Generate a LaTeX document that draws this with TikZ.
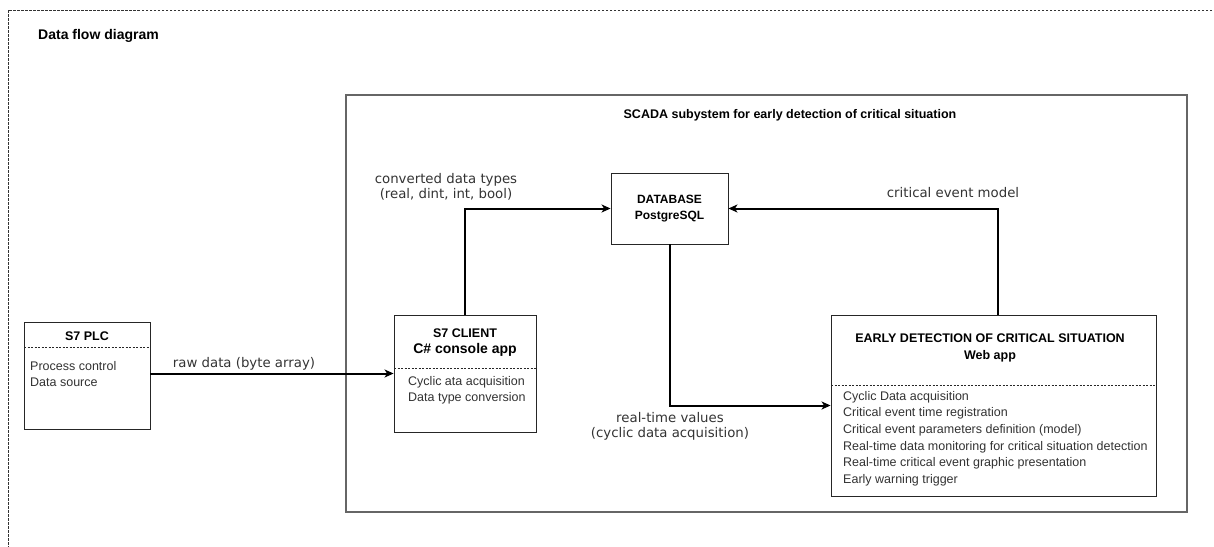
\documentclass[tikz,border=0pt]{standalone}
\usepackage{fontspec}
\setmainfont{Liberation Sans}
\newfontfamily\flowfont{DejaVu Sans}
\usetikzlibrary{arrows.meta}

\definecolor{txtgray}{HTML}{333333}
\definecolor{framegray}{HTML}{666666}

\tikzset{
  outerframe/.style={draw=black!80, line width=0.6pt, dash pattern=on 2.5pt off 1.5pt},
  scadabox/.style={draw=framegray, line width=1.2pt, inner sep=0pt},
  blk/.style={draw=black!85, line width=0.9pt, inner sep=0pt, fill=white},
  divider/.style={draw=black!85, line width=0.6pt, dash pattern=on 2pt off 1.5pt},
  hdr/.style={inner sep=0pt, font=\bfseries\fontsize{12.5}{15}\selectfont},
  body/.style={anchor=north west, align=left, inner sep=0pt, text=txtgray,
    font=\fontsize{12.5}{16.6}\selectfont},
  lbl/.style={inner sep=0pt, text=txtgray, font=\flowfont\fontsize{13.3}{15.2}\selectfont},
  flow/.style={draw=black, line width=2pt, -{Stealth[length=9pt, width=8pt, inset=2.5pt]}}
}

\begin{document}
\begin{tikzpicture}[x=1pt, y=-1pt]
		%%%%% START %%%%%
		
		\useasboundingbox (0,0) rectangle (1214,546);
		\draw[outerframe] (8,10) rectangle (1260,600);
		\node[anchor=west, inner sep=0pt, font=\bfseries\fontsize{14}{16}\selectfont] (dfd) at (38,36) {Data flow diagram};
		
		% subsystem frame
		\node[scadabox, minimum width=841pt, minimum height=417pt] (scada) at (766.5,303.5) {};
		\node[hdr] (scadahd) at (790,115) {SCADA subystem for early detection of critical situation};
		
		% PLC
		\node[blk, minimum width=126pt, minimum height=107pt] (plc) at (87,375.5) {};
		\node[hdr] (plchd) at (87,336) {S7 PLC};
		\draw[divider] (24,347) -- (150,347);
		\node[body] (plctx) at (30,361) {Process control\\Data source};
		
		% client
		\node[blk, minimum width=142pt, minimum height=117pt] (client) at (465,373.5) {};
		\node[hdr] (clienthd) at (465,333) {S7 CLIENT};
		\node[hdr, font=\bfseries\fontsize{14}{16}\selectfont] (clientsub) at (465,350) {C\# console app};
		\draw[divider] (394,368) -- (536,368);
		\node[body] (clienttx) at (408,376) {Cyclic ata acquisition\\Data type conversion};
		
		% database
		\node[blk, minimum width=117pt, minimum height=71pt, align=center,
		  font=\bfseries\fontsize{12}{16}\selectfont] (db) at (669.5,208.5) {DATABASE\\PostgreSQL};
		
		% web app
		\node[blk, minimum width=325pt, minimum height=181pt] (edcs) at (993.5,405.5) {};
		\node[hdr] (edcshd) at (990,338) {EARLY DETECTION OF CRITICAL SITUATION};
		\node[hdr] (edcssub) at (990,356) {Web app};
		\draw[divider] (831,385) -- (1156,385);
		\node[body] (edcstx) at (843,391) {Cyclic Data acquisition\\Critical event time registration\\Critical event parameters definition (model)\\Real-time data monitoring for critical situation detection\\Real-time critical event graphic presentation\\Early warning trigger};
		
		% data flows
		\draw[flow] (client.west -| plc.east) -- (client.west);
		\node[lbl] (rawlbl) at (244,364) {raw data (byte array)};
		
		\draw[flow] (client.north) |- (db.west);
		\node[lbl, align=center] (convlbl) at (446,186.5) {converted data types\\(real, dint, int, bool)};
		
		\draw[flow] ([xshift=4.5pt]edcs.north) |- (db.east);
		\node[lbl] (modlbl) at (953,193) {critical event model};
		
		\draw[flow] (db.south) |- (edcs.west);
		\node[lbl, align=center] (rtlbl) at (670,426.5) {real-time values\\(cyclic data acquisition)};
		
		%%%%% END %%%%%
\end{tikzpicture}
\end{document}
